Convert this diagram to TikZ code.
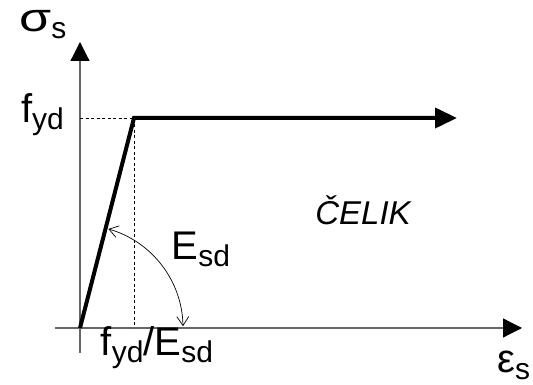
\documentclass[tikz,border=0pt]{standalone}
\usepackage{fontspec}
\setmainfont{Liberation Sans}
\usetikzlibrary{arrows.meta}
\newcommand{\lo}[1]{\raisebox{-7pt}{\fontsize{30pt}{30pt}\selectfont #1}}
\newcommand{\grk}[1]{\scalebox{1.3}[1]{#1}}

\begin{document}
\begin{tikzpicture}[
  x=1pt,y=1pt,
  lbl/.style={inner sep=0pt,font=\fontsize{40pt}{40pt}\selectfont},
  axis/.style={draw=black!60,line width=1.2pt,-{Triangle[length=19pt,width=19pt,color=black]}},
  curve/.style={line width=4pt,-{Triangle[length=22pt,width=20pt]}},
  guide/.style={line width=0.9pt,dash pattern=on 3pt off 2.5pt},
  angarrow/.style={line width=0.7pt,{Straight Barb[length=9pt,width=12pt]}-{Straight Barb[length=9pt,width=12pt]}}
]
\useasboundingbox (0,0) rectangle (533,385);
\coordinate (O) at (80,57);
\coordinate (Y) at (134,267);
\coordinate (Yx) at (134,57);
\coordinate (Yy) at (80,267);
\coordinate (vbot) at (80,32);
\coordinate (vtop) at (80,343);
\coordinate (hleft) at (55,57);
\coordinate (hright) at (522,57);
\coordinate (plat) at (457,267);
\draw[axis] (vbot) -- (vtop);
\draw[axis] (hleft) -- (hright);
\draw[guide] (Yy) -- (Y) -- (Yx);
\draw[curve] (O) -- (Y) -- (plat);
\draw[angarrow] (O) ++(74:103) arc[start angle=74,end angle=1,radius=103];
\node[lbl,anchor=base west] (sig) at (19,353) {\grk{σ}\lo{s}};
\node[lbl,anchor=east] (fyd) at (64,270) {f\lo{yd}};
\node[lbl] (ratio) at (157,37) {f\lo{yd}/E\lo{sd}};
\node[lbl] (esd) at (201,136) {E\lo{sd}};
\node[lbl,font=\fontsize{33pt}{33pt}\selectfont\itshape] (mat) at (363,175) {ČELIK};
\node[lbl,anchor=base west] (eps) at (497,12) {ε\lo{s}};
\end{tikzpicture}
\end{document}
